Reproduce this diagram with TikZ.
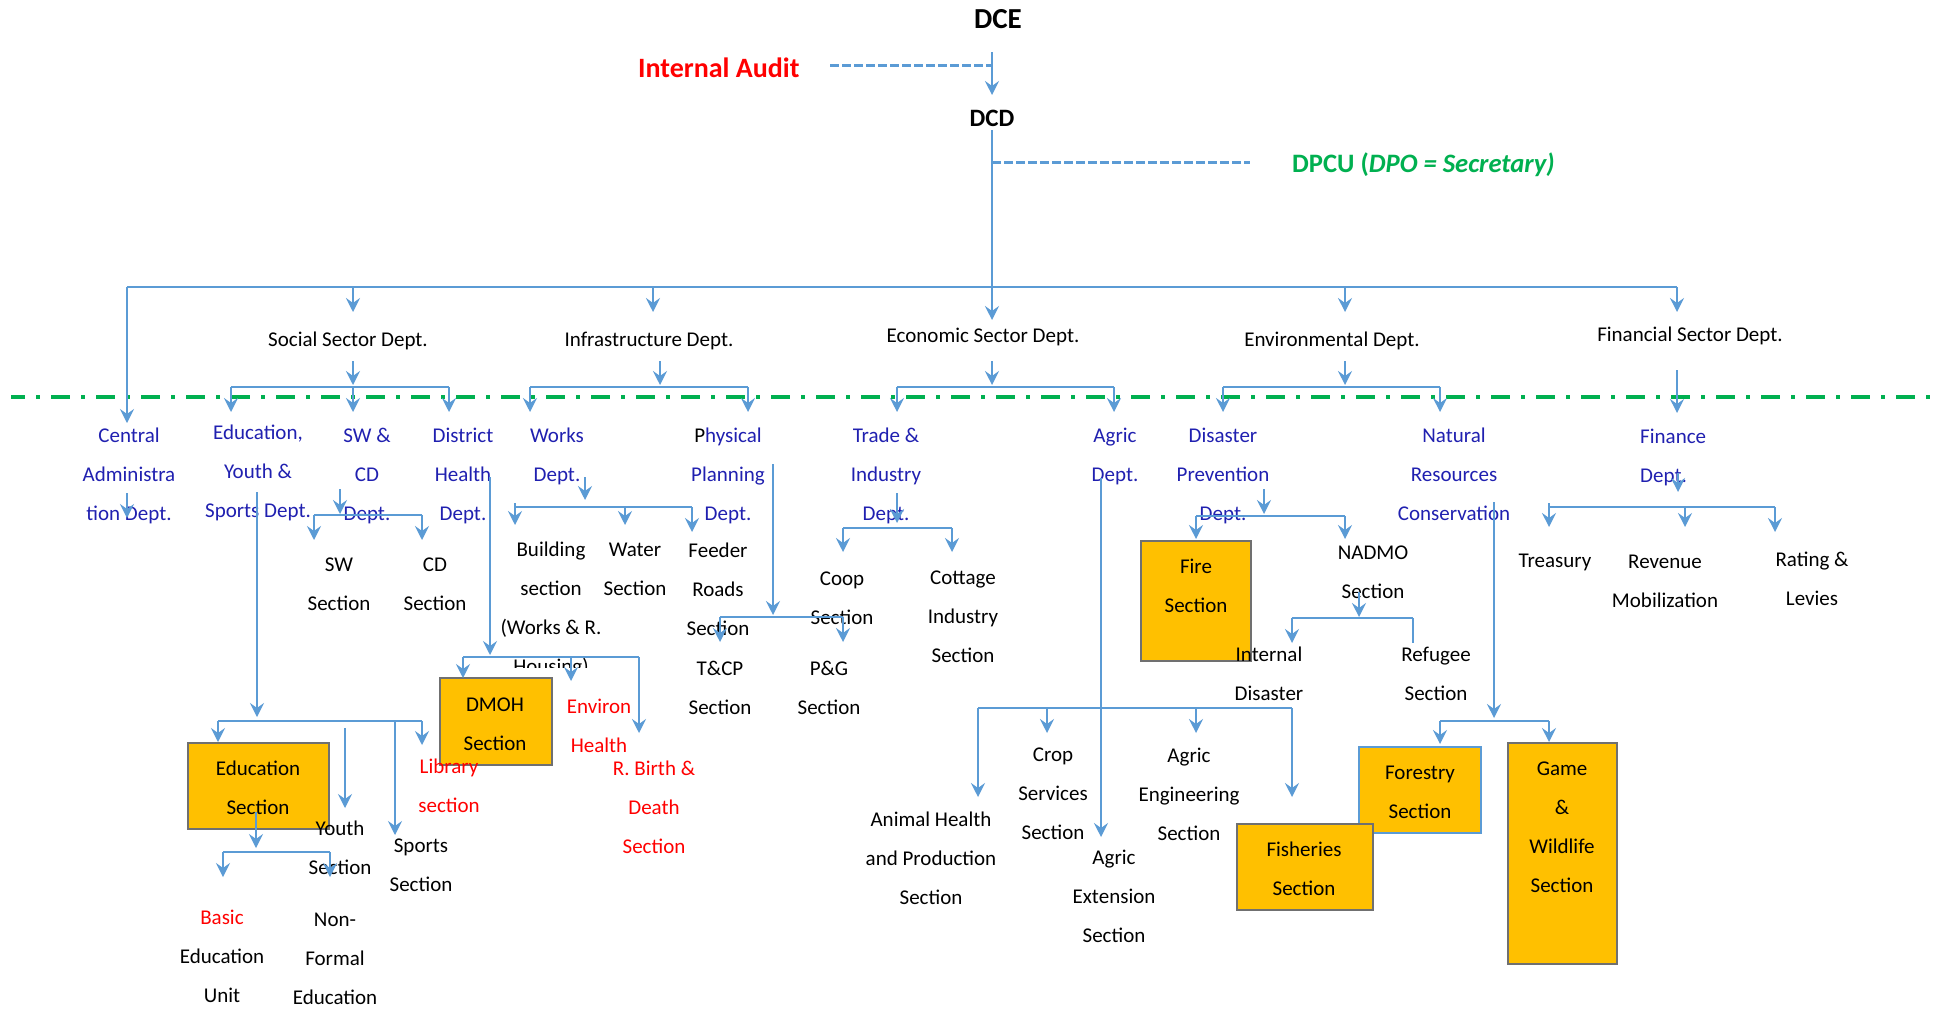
\documentclass[tikz,border=0pt]{standalone}
\usepackage{fontspec}
\setmainfont{Carlito}
\usetikzlibrary{arrows.meta}
\definecolor{lnblue}{HTML}{5B9BD5}
\definecolor{dblue}{RGB}{32,32,176}
\definecolor{boxfill}{HTML}{FFC000}
\definecolor{boxgray}{HTML}{707070}
\definecolor{grn}{HTML}{00B050}
\definecolor{rd}{HTML}{FF0000}
\newcommand\VArr[4]{\coordinate (#1a) at (#2,#3); \coordinate (#1b) at (#2,#4); \draw[arr] (#1a) -- (#1b);}
\newcommand\HLine[4]{\coordinate (#1a) at (#2,#4); \coordinate (#1b) at (#3,#4); \draw[ln] (#1a) -- (#1b);}
\begin{document}
\begin{tikzpicture}[x=1pt,y=-1pt,
  txt/.style={align=center, inner sep=0pt, font=\fontsize{21}{39}\selectfont, execute at begin node=\strut, execute at end node=\strut},
  mtxt/.style={txt, yshift=-5pt},
  btxt/.style={mtxt, text=dblue},
  rtxt/.style={mtxt, text=rd},
  ttl/.style={inner sep=0pt, anchor=base},
  secbox/.style={draw=boxgray, line width=2.5pt, fill=boxfill, inner sep=0pt},
  ln/.style={draw=lnblue, line width=1.6pt},
  arr/.style={ln, -{Stealth[length=14pt,width=14pt,inset=5pt]}},
  dsh/.style={draw=lnblue, line width=3pt, dash pattern=on 9pt off 3pt},
  grnline/.style={draw=grn, line width=4.5pt, dash pattern=on 19pt off 11pt on 3.5pt off 11.5pt, dash phase=5pt},
]
\fill[white] (0,0) rectangle (1948,1009);
\useasboundingbox (0,0) rectangle (1948,1009);

% ---------- boxes ----------
\node[secbox, minimum width=141pt, minimum height=86pt] (edubox) at (258.5,786) {};
\node[secbox, minimum width=112pt, minimum height=87pt] (dmohbox) at (496,721.5) {};
\node[secbox, minimum width=110pt, minimum height=120pt] (firebox) at (1196,601) {};
\node[secbox, draw=lnblue, minimum width=122pt, minimum height=86pt] (forbox) at (1420,790) {};
\node[secbox, minimum width=136pt, minimum height=86pt] (fishbox) at (1305,867) {};
\node[secbox, minimum width=109pt, minimum height=221pt] (gamebox) at (1562.5,853.5) {};

% ---------- titles ----------
\node[ttl, font=\bfseries\fontsize{29}{29}\selectfont] (dce) at (998,28) {DCE};
\node[ttl, anchor=base west, text=rd, font=\bfseries\fontsize{28}{28}\selectfont] (ia) at (638,77) {Internal Audit};
\node[ttl, font=\bfseries\fontsize{25}{25}\selectfont] (dcd) at (992,126) {DCD};
\node[ttl, anchor=base west, text=grn, font=\bfseries\fontsize{26.6}{26.6}\selectfont] (dpcu) at (1292,172) {DPCU (\textit{DPO = Secretary)}};

% ---------- department texts ----------
\node[txt] (soc) at (348,339) {Social Sector Dept.};
\node[txt] (inf) at (649,339) {Infrastructure Dept.};
\node[txt] (eco) at (983,335) {Economic Sector Dept.};
\node[txt] (envd) at (1332,339) {Environmental Dept.};
\node[txt] (find) at (1690,334) {Financial Sector Dept.};

\node[btxt] (cad) at (129,475) {Central\\Administra\\tion Dept.};
\node[btxt] (eys) at (258,472) {Education,\\Youth \&\\Sports Dept.};
\node[btxt] (swcdd) at (367,475) {SW \&\\CD\\Dept.};
\node[btxt] (dhd) at (463,475) {District\\Health\\Dept.};
\node[btxt] (wrkd) at (557,456) {Works\\Dept.};
\node[btxt] (ppd) at (728,475) {{\color{black}P}hysical\\Planning\\Dept.};
\node[btxt] (tid) at (886,475) {Trade \&\\Industry\\Dept.};
\node[btxt] (agd) at (1115,456) {Agric\\Dept.};
\node[btxt] (dpd) at (1223,475) {Disaster\\Prevention\\Dept.};
\node[btxt] (nrc) at (1454,475) {Natural\\Resources\\Conservation};
\node[btxt, align=left, anchor=west] (fnd) at (1640,457) {Finance\\Dept.};

% ---------- sections ----------
\node[mtxt] (sws) at (339,585) {SW\\Section};
\node[mtxt] (cds) at (435,585) {CD\\Section};
\begin{scope}
\clip (470,520) rectangle (630,667);
\node[mtxt] (bld) at (551,609) {Building\\section\\(Works \& R.\\Housing)};
\end{scope}
\node[mtxt] (wts) at (635,570) {Water\\Section};
\node[mtxt] (frs) at (718,590) {Feeder\\Roads\\Section};
\node[mtxt] (tcp) at (720,689) {T\&CP\\Section};
\node[mtxt] (pgs) at (829,689) {P\&G\\Section};
\node[mtxt] (cps) at (842,599) {Coop\\Section};
\node[mtxt] (cis) at (963,618) {Cottage\\Industry\\Section};
\node[txt] (trs) at (1555,560) {Treasury};
\node[mtxt] (rms) at (1665,582) {Revenue\\Mobilization};
\node[mtxt] (rls) at (1812,580) {Rating \&\\Levies};
\node[mtxt] (nds) at (1373,573) {NADMO\\Section};
\node[mtxt] (ids) at (1269,675) {Internal\\Disaster};
\node[mtxt] (rfs) at (1436,675) {Refugee\\Section};
\node[mtxt] (ahs) at (931,859) {Animal Health\\and Production\\Section};
\node[mtxt] (css) at (1053,795) {Crop\\Services\\Section};
\node[mtxt] (aes) at (1189,795) {Agric\\Engineering\\Section};
\node[mtxt] (axs) at (1114,897) {Agric\\Extension\\Section};
\node[mtxt] (yos) at (340,849) {Youth\\Section};
\node[mtxt] (sps) at (421,866) {Sports\\Section};
\node[mtxt] (beu) at (222,957) {{\color{rd}Basic}\\Education\\Unit};
\node[mtxt] (nfe) at (335,960) {Non-\\Formal\\Education};

\node[rtxt] (lbs) at (449,787) {Library\\section};
\node[rtxt] (ehs) at (599,727) {Environ\\Health};
\node[rtxt] (rbd) at (654,808) {R. Birth \&\\Death\\Section};

\node[mtxt] (edbt) at (258,789) {Education\\Section};
\node[mtxt] (dmt) at (495,725) {DMOH\\Section};
\node[mtxt] (frt) at (1196,587) {Fire\\Section};
\node[mtxt] (fst) at (1304,870) {Fisheries\\Section};
\node[mtxt] (fot) at (1420,793) {Forestry\\Section};
\node[mtxt] (gwt) at (1562,828) {Game\\\&\\Wildlife\\Section};

% ---------- green boundary ----------
\coordinate (gL) at (11,397);
\coordinate (gR) at (1935,397);
\draw[grnline] (gL) -- (gR);

% ---------- top connectors ----------
\coordinate (dceS) at (992,52);
\coordinate (dcdN) at (992,95);
\draw[arr] (dceS) -- (dcdN);
\coordinate (iaE) at (830,65);
\coordinate (iaJ) at (992,65);
\draw[dsh] (iaE) -- (iaJ);
\coordinate (dcdS) at (992,130);
\coordinate (ecoN) at (992,320);
\draw[arr] (dcdS) -- (ecoN);
\coordinate (dpJ) at (992,162);
\coordinate (dpW) at (1250,162);
\draw[dsh] (dpJ) -- (dpW);

\HLine{bus}{127}{1677}{287}
\VArr{cen}{127}{287}{423}
\VArr{soc}{353}{287}{312}
\VArr{inf}{653}{287}{312}
\VArr{env}{1345}{287}{312}
\VArr{fin}{1677}{287}{312}

% ---------- level 2 ----------
\VArr{socS}{353}{361}{385}
\HLine{socB}{231}{449}{387}
\VArr{edu}{231}{387}{412}
\VArr{swcd}{353}{387}{412}
\VArr{dh}{449}{387}{412}
\VArr{infS}{660}{361}{385}
\HLine{infB}{530}{748}{387}
\VArr{wrk}{530}{387}{412}
\VArr{pp}{748}{387}{412}
\VArr{ecoS}{992}{361}{385}
\HLine{ecoB}{897}{1114}{387}
\VArr{trd}{897}{387}{412}
\VArr{agr}{1114}{387}{412}
\VArr{envS}{1345}{361}{385}
\HLine{envB}{1223}{1440}{387}
\VArr{dis}{1223}{387}{412}
\VArr{nat}{1440}{387}{412}
\VArr{finS}{1677}{370}{413}

% ---------- level 3 ----------
\VArr{cenS}{127}{493}{518}
\VArr{eduS}{257}{492}{717}
\HLine{eduB}{218}{422}{721}
\VArr{edbx}{218}{721}{742}
\VArr{lib}{422}{721}{745}
\VArr{spo}{395}{721}{835}
\VArr{you}{345}{728}{808}
\VArr{edbS}{256}{812}{848}
\HLine{edbB}{223}{330}{852}
\VArr{bas}{223}{852}{877}
\VArr{nfe}{330}{852}{877}
\VArr{swS}{340}{489}{514}
\HLine{swB}{314}{422}{515}
\VArr{sw}{314}{515}{540}
\VArr{cd}{422}{515}{540}
\VArr{dhS}{490}{477}{655}
\HLine{dhB}{463}{639}{657}
\VArr{dmoh}{463}{657}{678}
\VArr{envh}{571}{657}{681}
\VArr{rbd}{639}{657}{733}
\VArr{wrkS}{585}{477}{500}
\HLine{wrkB}{515}{692}{507}
\VArr{bld}{515}{503}{525}
\VArr{wat}{625}{507}{525}
\VArr{fdr}{692}{507}{532}
\VArr{ppS}{773}{464}{615}
\HLine{ppB}{720}{843}{617}
\VArr{tcp}{720}{617}{642}
\VArr{pg}{843}{617}{642}
\VArr{trdS}{897}{493}{523}
\HLine{trdB}{843}{952}{528}
\VArr{coop}{843}{528}{552}
\VArr{cot}{952}{528}{552}
\VArr{agrS}{1101}{478}{837}
\HLine{agrB}{978}{1292}{708}
\VArr{ahp}{978}{708}{797}
\VArr{crp}{1047}{708}{733}
\VArr{aen}{1196}{708}{733}
\VArr{fsh}{1292}{708}{797}
\VArr{disS}{1264}{489}{514}
\HLine{disB}{1196}{1345}{516}
\VArr{fire}{1196}{516}{539}
\VArr{nad}{1345}{516}{539}
\VArr{nadS}{1359}{592}{617}
\HLine{nadB}{1292}{1413}{618}
\VArr{intd}{1292}{618}{643}
\coordinate (refa) at (1413,618);
\coordinate (refb) at (1413,643);
\draw[ln] (refa) -- (refb);
\VArr{natS}{1494}{502}{718}
\HLine{natB}{1440}{1549}{721}
\VArr{for}{1440}{721}{744}
\VArr{gam}{1549}{721}{742}
\VArr{finT}{1678}{473}{492}
\HLine{finB}{1549}{1775}{507}
\VArr{tre}{1549}{503}{527}
\VArr{rev}{1685}{507}{527}
\VArr{rat}{1775}{507}{532}
\end{tikzpicture}
\end{document}
